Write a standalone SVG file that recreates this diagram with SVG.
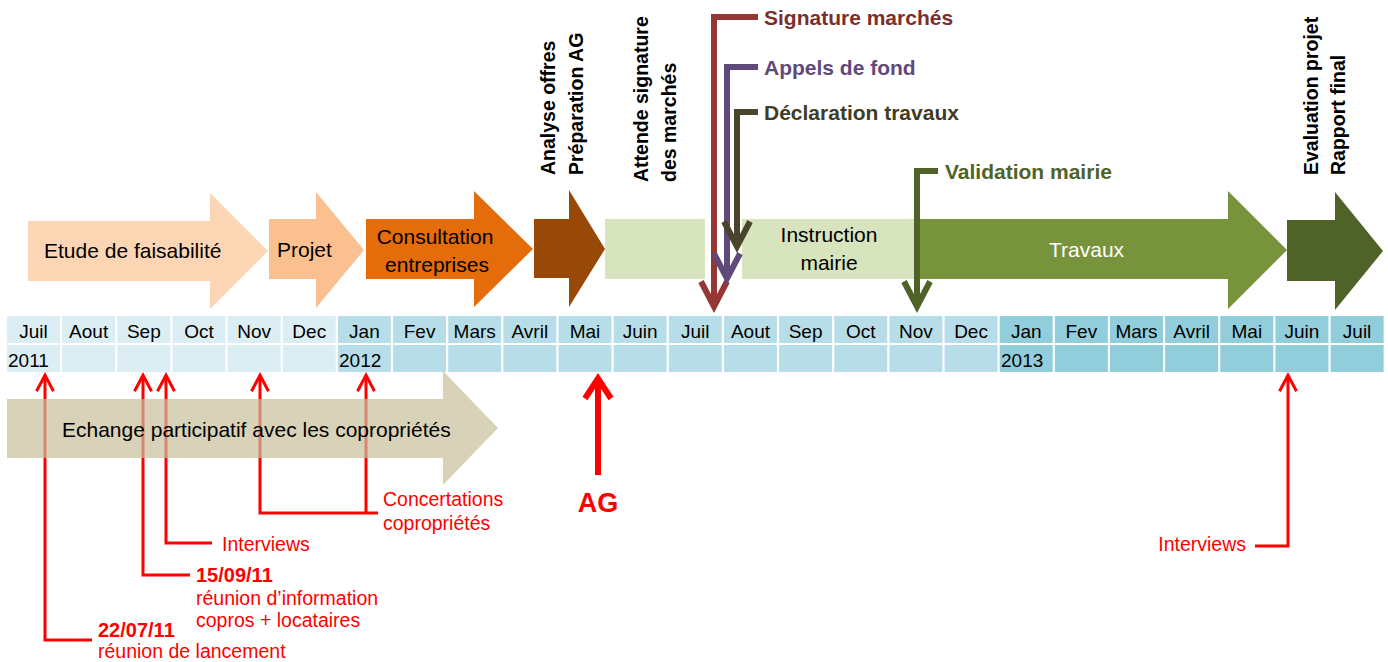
<svg xmlns="http://www.w3.org/2000/svg" width="1388" height="662" viewBox="0 0 1388 662">
<style>
text{font-family:"Liberation Sans",Arial,sans-serif;}
.blk{font-size:21px;fill:#000;}
.vt{font-size:19.5px;font-weight:bold;fill:#000;}
.m{font-size:19px;fill:#000;text-anchor:middle;}
.y{font-size:19px;fill:#000;}
.c1{fill:#DAEEF3;}
.c2{fill:#B7DEE8;}
.c3{fill:#92CDDC;}
.rl{fill:none;stroke:#FF0000;stroke-width:3;stroke-linejoin:miter;}
.rt{font-size:19.5px;fill:#FF0000;}
.rb{font-size:20px;fill:#FF0000;font-weight:bold;}
.tl{fill:none;stroke-width:6;stroke-linejoin:miter;}
.tt{font-size:21px;font-weight:bold;}
</style>
<defs>
<marker id="hRed" markerUnits="userSpaceOnUse" orient="auto" markerWidth="1" markerHeight="1" refX="0" refY="0" overflow="visible"><path d="M-16,-8.5 L0,0 L-16,8.5" fill="none" stroke="#FF0000" stroke-width="3"/></marker>
<marker id="hAG" markerUnits="userSpaceOnUse" orient="auto" markerWidth="1" markerHeight="1" refX="0" refY="0" overflow="visible"><path d="M-20,-13 L0,0 L-20,13" fill="none" stroke="#FF0000" stroke-width="6"/></marker>
<marker id="hSig" markerUnits="userSpaceOnUse" orient="auto" markerWidth="1" markerHeight="1" refX="0" refY="0" overflow="visible"><path d="M-25,-13 L0,0 L-25,13" fill="none" stroke="#953735" stroke-width="6"/></marker>
<marker id="hApp" markerUnits="userSpaceOnUse" orient="auto" markerWidth="1" markerHeight="1" refX="0" refY="0" overflow="visible"><path d="M-25,-13 L0,0 L-25,13" fill="none" stroke="#604A7B" stroke-width="6"/></marker>
<marker id="hDec" markerUnits="userSpaceOnUse" orient="auto" markerWidth="1" markerHeight="1" refX="0" refY="0" overflow="visible"><path d="M-25,-13 L0,0 L-25,13" fill="none" stroke="#4A452A" stroke-width="6"/></marker>
<marker id="hVal" markerUnits="userSpaceOnUse" orient="auto" markerWidth="1" markerHeight="1" refX="0" refY="0" overflow="visible"><path d="M-25,-13 L0,0 L-25,13" fill="none" stroke="#4F6228" stroke-width="6"/></marker>
</defs>
<rect width="1388" height="662" fill="#FFFFFF"/>

<g id="etude">
<path d="M28,221 H210 V193 L268,251 L210,309 V281 H28 Z" fill="#FCD5B5"/>
<text class="blk" x="44" y="258">Etude de faisabilité</text>
</g>
<g id="projet">
<path d="M269,219 H316 V192 L364,250 L316,308 V279 H269 Z" fill="#FAC090"/>
<text class="blk" x="277" y="257">Projet</text>
</g>
<g id="consultation">
<path d="M366,219 H474 V191 L533,249 L474,307 V279 H366 Z" fill="#E46C0A"/>
<text class="blk" x="435" y="244" text-anchor="middle">Consultation</text>
<text class="blk" x="437" y="272" text-anchor="middle">entreprises</text>
</g>
<g id="analyse">
<path d="M534,219 H569 V190 L605,249 L569,307 V278 H534 Z" fill="#984807"/>
<text class="vt" transform="translate(555,175) rotate(-90)">Analyse offres</text>
<text class="vt" transform="translate(583,175) rotate(-90)">Préparation AG</text>
</g>
<g id="attente">
<rect x="605" y="219" width="100" height="60" fill="#D7E4BD"/>
<text class="vt" transform="translate(648,182) rotate(-90)">Attende signature</text>
<text class="vt" transform="translate(676,182) rotate(-90)">des marchés</text>
</g>
<g id="instruction">
<rect x="742" y="219" width="176" height="60" fill="#D7E4BD"/>
<text class="blk" x="829" y="242" text-anchor="middle">Instruction</text>
<text class="blk" x="829" y="270" text-anchor="middle">mairie</text>
</g>
<g id="travaux">
<path d="M918,219 H1228 V191 L1287,250 L1228,309 V279 H918 Z" fill="#77933C"/>
<text class="blk" x="1049" y="257" fill="#FFFFFF" style="fill:#FFFFFF">Travaux</text>
</g>
<g id="evaluation">
<path d="M1287,220 H1335 V192 L1383,251 L1335,310 V281 H1287 Z" fill="#4F6228"/>
<text class="vt" transform="translate(1318,175) rotate(-90)">Evaluation projet</text>
<text class="vt" transform="translate(1345,175) rotate(-90)">Rapport final</text>
</g>

<g id="timeline">
<rect class="c1" x="7" y="316" width="53" height="27"/><rect class="c1" x="7" y="345" width="53" height="27"/>
<rect class="c1" x="62.15" y="316" width="53" height="27"/><rect class="c1" x="62.15" y="345" width="53" height="27"/>
<rect class="c1" x="117.3" y="316" width="53" height="27"/><rect class="c1" x="117.3" y="345" width="53" height="27"/>
<rect class="c1" x="172.45" y="316" width="53" height="27"/><rect class="c1" x="172.45" y="345" width="53" height="27"/>
<rect class="c1" x="227.6" y="316" width="53" height="27"/><rect class="c1" x="227.6" y="345" width="53" height="27"/>
<rect class="c1" x="282.75" y="316" width="53" height="27"/><rect class="c1" x="282.75" y="345" width="53" height="27"/>
<rect class="c2" x="337.9" y="316" width="53" height="27"/><rect class="c2" x="337.9" y="345" width="53" height="27"/>
<rect class="c2" x="393.05" y="316" width="53" height="27"/><rect class="c2" x="393.05" y="345" width="53" height="27"/>
<rect class="c2" x="448.2" y="316" width="53" height="27"/><rect class="c2" x="448.2" y="345" width="53" height="27"/>
<rect class="c2" x="503.35" y="316" width="53" height="27"/><rect class="c2" x="503.35" y="345" width="53" height="27"/>
<rect class="c2" x="558.5" y="316" width="53" height="27"/><rect class="c2" x="558.5" y="345" width="53" height="27"/>
<rect class="c2" x="613.65" y="316" width="53" height="27"/><rect class="c2" x="613.65" y="345" width="53" height="27"/>
<rect class="c2" x="668.8" y="316" width="53" height="27"/><rect class="c2" x="668.8" y="345" width="53" height="27"/>
<rect class="c2" x="723.95" y="316" width="53" height="27"/><rect class="c2" x="723.95" y="345" width="53" height="27"/>
<rect class="c2" x="779.1" y="316" width="53" height="27"/><rect class="c2" x="779.1" y="345" width="53" height="27"/>
<rect class="c2" x="834.25" y="316" width="53" height="27"/><rect class="c2" x="834.25" y="345" width="53" height="27"/>
<rect class="c2" x="889.4" y="316" width="53" height="27"/><rect class="c2" x="889.4" y="345" width="53" height="27"/>
<rect class="c2" x="944.55" y="316" width="53" height="27"/><rect class="c2" x="944.55" y="345" width="53" height="27"/>
<rect class="c3" x="999.7" y="316" width="53" height="27"/><rect class="c3" x="999.7" y="345" width="53" height="27"/>
<rect class="c3" x="1054.85" y="316" width="53" height="27"/><rect class="c3" x="1054.85" y="345" width="53" height="27"/>
<rect class="c3" x="1110" y="316" width="53" height="27"/><rect class="c3" x="1110" y="345" width="53" height="27"/>
<rect class="c3" x="1165.15" y="316" width="53" height="27"/><rect class="c3" x="1165.15" y="345" width="53" height="27"/>
<rect class="c3" x="1220.3" y="316" width="53" height="27"/><rect class="c3" x="1220.3" y="345" width="53" height="27"/>
<rect class="c3" x="1275.45" y="316" width="53" height="27"/><rect class="c3" x="1275.45" y="345" width="53" height="27"/>
<rect class="c3" x="1330.6" y="316" width="53" height="27"/><rect class="c3" x="1330.6" y="345" width="53" height="27"/>
<text class="m" x="33.5" y="338">Juil</text>
<text class="m" x="88.65" y="338">Aout</text>
<text class="m" x="143.8" y="338">Sep</text>
<text class="m" x="198.95" y="338">Oct</text>
<text class="m" x="254.1" y="338">Nov</text>
<text class="m" x="309.25" y="338">Dec</text>
<text class="m" x="364.4" y="338">Jan</text>
<text class="m" x="419.55" y="338">Fev</text>
<text class="m" x="474.7" y="338">Mars</text>
<text class="m" x="529.85" y="338">Avril</text>
<text class="m" x="585" y="338">Mai</text>
<text class="m" x="640.15" y="338">Juin</text>
<text class="m" x="695.3" y="338">Juil</text>
<text class="m" x="750.45" y="338">Aout</text>
<text class="m" x="805.6" y="338">Sep</text>
<text class="m" x="860.75" y="338">Oct</text>
<text class="m" x="915.9" y="338">Nov</text>
<text class="m" x="971.05" y="338">Dec</text>
<text class="m" x="1026.2" y="338">Jan</text>
<text class="m" x="1081.35" y="338">Fev</text>
<text class="m" x="1136.5" y="338">Mars</text>
<text class="m" x="1191.65" y="338">Avril</text>
<text class="m" x="1246.8" y="338">Mai</text>
<text class="m" x="1301.95" y="338">Juin</text>
<text class="m" x="1357.1" y="338">Juil</text>
<text class="y" x="8" y="367">2011</text>
<text class="y" x="339" y="367">2012</text>
<text class="y" x="1001" y="367">2013</text>
</g>

<g id="connectors">
<path class="rl" d="M92,640 H45 V375.2" marker-end="url(#hRed)"/>
<path class="rl" d="M190,575 H143 V375.2" marker-end="url(#hRed)"/>
<path class="rl" d="M212,543 H166 V375.2" marker-end="url(#hRed)"/>
<path class="rl" d="M378,513 H260 V375.2" marker-end="url(#hRed)"/>
<path class="rl" d="M366,513 V375.2" marker-end="url(#hRed)"/>
<path class="rl" d="M1255,546 H1288 V375.2" marker-end="url(#hRed)"/>
<path d="M598,475 V378.5" fill="none" stroke="#FF0000" stroke-width="6" marker-end="url(#hAG)"/>
<path class="tl" stroke="#953735" d="M758,17 H714 V306.5" marker-end="url(#hSig)"/>
<path class="tl" stroke="#604A7B" d="M758,67 H727 V278.5" marker-end="url(#hApp)"/>
<path class="tl" stroke="#4A452A" d="M758,112 H737 V246.5" marker-end="url(#hDec)"/>
<path class="tl" stroke="#4F6228" d="M938,171 H917 V306.5" marker-end="url(#hVal)"/>
<text class="tt" x="764" y="25" fill="#7A2F2D">Signature marchés</text>
<text class="tt" x="764" y="75" fill="#5F497A">Appels de fond</text>
<text class="tt" x="764" y="120" fill="#403C24">Déclaration travaux</text>
<text class="tt" x="945" y="179" fill="#4F6228">Validation mairie</text>
</g>

<g id="echange">
<path d="M7,399 H443 V371 L498,428 L443,485 V458 H7 Z" fill="#C7BF9A" fill-opacity="0.7"/>
<text class="blk" x="62" y="437">Echange participatif avec les copropriétés</text>
</g>

<g id="labels">
<text class="rb" x="98" y="637">22/07/11</text>
<text class="rt" x="98" y="658">réunion de lancement</text>
<text class="rb" x="196" y="582">15/09/11</text>
<text class="rt" x="196" y="605">réunion d’information</text>
<text class="rt" x="196" y="627">copros + locataires</text>
<text class="rt" x="222" y="551">Interviews</text>
<text class="rt" x="383" y="506">Concertations</text>
<text class="rt" x="383" y="530">copropriétés</text>
<text x="598" y="512" text-anchor="middle" style="font-size:27px;font-weight:bold;fill:#FF0000">AG</text>
<text class="rt" x="1246" y="551" text-anchor="end">Interviews</text>
</g>
</svg>
